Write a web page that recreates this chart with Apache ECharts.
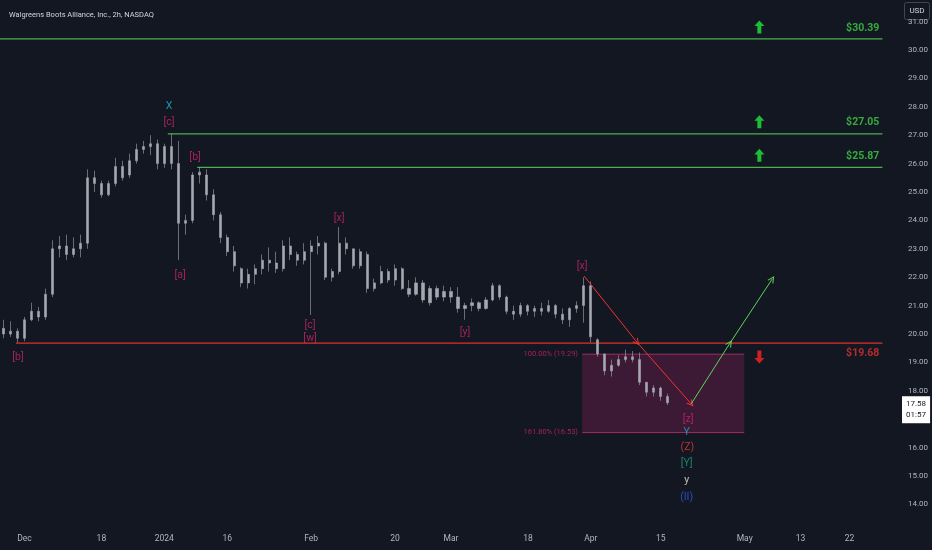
<!DOCTYPE html>
<html>
<head>
<meta charset="utf-8">
<title>WBA 2h</title>
<script src="https://cdn.jsdelivr.net/npm/echarts@6/dist/echarts.min.js"></script>
<style>
html, body { margin: 0; padding: 0; background: #131722; }
#chart { width: 932px; height: 550px; }
</style>
</head>
<body>
<div id="chart"></div>
<script>
// trading calendar (NASDAQ), weekends and these holidays are skipped
const firstDay = '2023-11-28';
const lastDay = '2024-05-31';
const holidays = ['2023-12-25', '2024-01-01', '2024-01-15', '2024-02-19', '2024-03-29', '2024-05-27'];

// time scale labels as printed under the chart
const tickLabels = {
    '2023-12-01': 'Dec', '2023-12-18': '18', '2024-01-02': '2024', '2024-01-16': '16',
    '2024-02-01': 'Feb', '2024-02-20': '20', '2024-03-01': 'Mar', '2024-03-18': '18',
    '2024-04-01': 'Apr', '2024-04-15': '15', '2024-05-01': 'May', '2024-05-13': '13',
    '2024-05-22': '22'
};

// one candle per session: [open, close, low, high]
const candles = [
    [20.2, 20.0, 19.85, 20.5], [20.0, 20.1, 19.9, 20.45], [20.1, 19.85, 19.7, 20.2], [19.85, 20.5, 19.75, 20.6],
    [20.5, 20.8, 20.45, 21.1], [20.8, 20.6, 20.45, 20.95], [20.6, 21.4, 20.5, 21.6], [21.4, 23.0, 21.3, 23.3],
    [23.0, 23.1, 22.7, 23.45], [23.1, 22.8, 22.6, 23.5], [22.8, 23.0, 22.7, 23.4], [23.0, 23.2, 22.7, 23.5],
    [23.2, 25.5, 23.0, 25.8], [25.5, 25.3, 25.0, 25.75], [25.3, 24.9, 24.8, 25.4], [24.9, 25.3, 24.85, 25.4],
    [25.3, 25.9, 25.2, 26.2], [25.9, 25.5, 25.4, 26.1], [25.6, 26.1, 25.5, 26.35], [26.1, 26.5, 26.0, 26.7],
    [26.5, 26.6, 26.35, 26.8], [26.6, 26.7, 26.3, 27.0], [26.7, 26.0, 25.8, 26.85], [26.0, 26.6, 25.85, 26.7],
    [26.6, 26.0, 25.8, 27.05], [26.0, 23.9, 22.6, 26.8], [23.9, 24.0, 23.5, 24.2], [24.0, 25.6, 23.9, 25.7],
    [25.6, 25.7, 25.3, 25.87], [25.6, 24.9, 24.7, 25.8], [24.9, 24.2, 24.0, 25.1], [24.2, 23.4, 23.2, 24.3],
    [23.4, 22.9, 22.75, 23.5], [22.9, 22.4, 22.2, 23.1], [22.3, 21.8, 21.65, 22.35], [21.8, 22.1, 21.6, 22.3],
    [22.1, 22.3, 21.75, 22.45], [22.3, 22.6, 22.1, 22.8], [22.6, 22.5, 22.2, 23.05], [22.5, 22.3, 22.15, 22.9],
    [22.3, 23.1, 22.2, 23.3], [23.1, 22.8, 22.6, 23.4], [22.8, 22.6, 22.4, 22.9], [22.6, 22.9, 22.45, 23.2],
    [22.9, 23.1, 20.67, 23.3], [23.1, 23.2, 22.8, 23.45], [23.2, 22.0, 21.9, 23.25], [22.0, 22.2, 21.85, 22.3],
    [22.2, 23.2, 22.1, 23.77], [23.2, 23.0, 22.8, 23.4], [23.0, 22.4, 22.3, 23.0], [22.4, 22.9, 22.3, 23.0],
    [22.8, 21.6, 21.45, 22.9], [21.6, 21.8, 21.5, 21.95], [21.8, 22.2, 21.75, 22.4], [22.2, 21.9, 21.8, 22.3],
    [21.9, 22.3, 21.7, 22.45], [22.3, 21.6, 21.55, 22.35], [21.6, 21.4, 21.3, 21.9], [21.4, 21.8, 21.35, 22.0],
    [21.8, 21.2, 21.1, 21.9], [21.1, 21.6, 21.0, 21.7], [21.6, 21.3, 21.2, 21.7], [21.3, 21.5, 21.15, 21.7],
    [21.5, 21.3, 21.1, 21.65], [21.3, 20.9, 20.75, 21.65], [20.9, 21.0, 20.5, 21.1], [21.0, 21.1, 20.8, 21.25],
    [21.1, 20.9, 20.8, 21.15], [20.9, 21.2, 20.85, 21.3], [21.2, 21.7, 21.15, 21.8], [21.7, 21.3, 21.2, 21.75],
    [21.3, 20.8, 20.7, 21.35], [20.8, 20.7, 20.5, 21.0], [20.7, 21.0, 20.6, 21.1], [21.0, 20.8, 20.65, 21.05],
    [20.8, 20.9, 20.6, 21.0], [20.9, 20.8, 20.65, 21.1], [20.8, 21.0, 20.75, 21.2], [21.0, 20.7, 20.55, 21.05],
    [20.7, 20.5, 20.35, 20.9], [20.5, 20.9, 20.25, 20.95], [20.9, 21.0, 20.75, 21.15], [21.0, 21.7, 20.4, 22.0],
    [21.7, 19.9, 19.7, 21.85], [19.8, 19.3, 19.2, 19.85], [19.3, 18.7, 18.55, 19.3], [18.7, 18.9, 18.5, 19.1],
    [18.9, 19.1, 18.85, 19.25], [19.1, 19.2, 19.0, 19.45], [19.2, 19.1, 19.0, 19.4], [19.1, 18.3, 18.2, 19.35],
    [18.3, 17.95, 17.8, 18.3], [17.95, 18.1, 17.8, 18.2], [18.1, 17.8, 17.65, 18.15], [17.8, 17.58, 17.5, 17.9]
];
const lastPrice = 17.58;
const countdown = '01:57';

// price scale
const priceMin = 13.275;
const priceMax = 31.761;
const priceTicks = [14, 15, 16, 17, 18, 19, 20, 21, 22, 23, 24, 25, 26, 27, 28, 29, 30, 31];

// horizontal levels (x in session slots, 0 = first session)
const levelPrices = [30.39, 27.05, 25.87, 19.68];
const levelStart = [0, 24.0, 28.2, 2.3];
const levelEnd = 126.2;
const levelUp = [true, true, true, false];
const arrowSlot = 108.6;

// fib extension box
const fibPrices = [19.29, 16.53];
const fibLabels = ['100.00% (19.29)', '161.80% (16.53)'];
const fibFrom = 83.26;
const fibTo = 106.44;

// projected paths
const redPath = [[83.55, 22.04], [91.13, 19.70], [98.85, 17.54]];
const greenPath = [[98.85, 17.54], [104.4, 19.68], [110.45, 21.94]];

// wave labels: text, slot, price, colour
const waveText = ['X', '[c]', '[b]', '[a]', '[b]', '[x]', '[c]', '[w]', '[y]', '[x]', '[z]', 'Y', '(Z)', '[Y]', 'y', '(II)'];
const waveSlot = [24.18, 24.18, 27.9, 25.75, 2.58, 48.5, 44.35, 44.35, 66.5, 83.26, 98.4, 98.2, 98.3, 98.2, 98.2, 98.2];
const wavePrice = [28.03, 27.46, 26.23, 22.08, 19.19, 24.08, 20.32, 19.86, 20.04, 22.39, 17.0, 16.55, 16.02, 15.46, 14.86, 14.26];
const waveColor = ['#1fb5cc', '#c9246a', '#c9246a', '#c9246a', '#c9246a', '#c9246a', '#c9246a', '#c9246a', '#c9246a',
    '#c9246a', '#c9246a', '#26a3d6', '#e53935', '#1e9e84', '#ece6c8', '#2f5ce8'];

const FONT = 'Roboto, "Noto Sans", sans-serif';
const GREEN = '#4caf50';
const GREEN_TEXT = '#3fcf45';
const RED = '#e0312f';
const PINK = '#c9246a';
const BAR = '#a5a8b0';

function buildDays() {
    const out = [];
    const d = new Date(firstDay + 'T12:00:00Z');
    const end = new Date(lastDay + 'T12:00:00Z');
    while (d <= end) {
        const key = d.toISOString().slice(0, 10);
        const wd = d.getUTCDay();
        if (wd !== 0 && wd !== 6 && holidays.indexOf(key) < 0) out.push(key);
        d.setUTCDate(d.getUTCDate() + 1);
    }
    return out;
}

const days = buildDays();
const chart = echarts.init(document.getElementById('chart'), null, { renderer: 'canvas' });

const levelSeries = levelPrices.map((p, i) => ({
    type: 'line',
    xAxisIndex: 1,
    silent: true,
    symbol: 'none',
    lineStyle: { color: levelUp[i] ? GREEN : RED, width: 1.2 },
    data: [[levelStart[i], p], [levelEnd, p]],
    z: 3
}));

const fibSeries = fibPrices.map((p, i) => ({
    type: 'line',
    xAxisIndex: 1,
    silent: true,
    symbol: 'none',
    lineStyle: { color: 'rgba(196, 52, 120, 0.75)', width: 1 },
    data: [[fibFrom, p], [fibTo, p]],
    markArea: i === 0 ? {
        silent: true,
        itemStyle: { color: 'rgba(168, 36, 104, 0.28)' },
        data: [[{ coord: [fibFrom, fibPrices[0]] }, { coord: [fibTo, fibPrices[1]] }]]
    } : undefined,
    z: 2
}));

function segments(path) {
    const out = [];
    for (let i = 1; i < path.length; i++) out.push({ coords: [path[i - 1], path[i]] });
    return out;
}

const chevron = 'path://M0,10 L5,0 L10,10 L8.4,10 L5,3.2 L1.6,10 Z';
const upArrow = 'path://M5,0 L10,6 L7,6 L7,14 L3,14 L3,6 L0,6 Z';

const option = {
    backgroundColor: '#131722',
    animation: false,
    title: {
        text: 'Walgreens Boots Alliance, Inc., 2h, NASDAQ',
        left: 4,
        top: 6,
        textStyle: { color: '#d1d4dc', fontSize: 7.5, fontWeight: 'normal', fontFamily: FONT }
    },
    grid: { left: 0, right: 37, top: 0, bottom: 25, containLabel: false },
    xAxis: [{
        type: 'category',
        data: days,
        boundaryGap: true,
        axisLine: { show: false },
        axisTick: { show: false },
        splitLine: { show: false },
        axisLabel: {
            interval: (idx, val) => tickLabels[val] !== undefined,
            formatter: (val) => tickLabels[val] || '',
            color: '#b2b5be',
            fontSize: 8.5,
            fontFamily: FONT,
            margin: 9
        }
    }, {
        type: 'value',
        min: 0,
        max: days.length,
        show: false
    }],
    yAxis: {
        type: 'value',
        position: 'right',
        min: priceMin,
        max: priceMax,
        axisLine: { show: false },
        axisTick: { show: false },
        splitLine: { show: false },
        axisLabel: {
            customValues: priceTicks,
            formatter: (v) => v.toFixed(2),
            color: '#b2b5be',
            fontSize: 8,
            fontFamily: FONT,
            margin: 13
        }
    },
    series: [
        {
            type: 'candlestick',
            data: candles,
            barWidth: 2.6,
            silent: true,
            itemStyle: {
                color: BAR, color0: BAR,
                borderColor: BAR, borderColor0: BAR,
                borderWidth: 0.6
            },
            markLine: {
                silent: true,
                symbol: 'none',
                lineStyle: { color: 'rgba(0,0,0,0)', width: 0 },
                label: {
                    show: true,
                    position: 'end',
                    distance: 7,
                    offset: [0, 7],
                    formatter: lastPrice.toFixed(2) + '\n' + countdown,
                    backgroundColor: '#ffffff',
                    color: '#131722',
                    fontSize: 8,
                    lineHeight: 11,
                    fontFamily: FONT,
                    padding: [3, 4, 2, 4]
                },
                data: [{ yAxis: lastPrice }]
            },
            z: 4
        },
        ...levelSeries,
        ...fibSeries,
        {
            type: 'scatter',
            xAxisIndex: 1,
            silent: true,
            symbolSize: 0,
            data: levelPrices.map((p, i) => ({
                value: [levelEnd - 0.45, p],
                label: {
                    color: levelUp[i] ? GREEN_TEXT : RED,
                    position: [0, levelUp[i] ? -11 : 10]
                }
            })),
            label: {
                show: true,
                align: 'right',
                verticalAlign: 'middle',
                formatter: (prm) => '$' + prm.value[1].toFixed(2),
                fontSize: 10.5,
                fontWeight: 'bold',
                fontFamily: FONT
            },
            z: 6
        },
        {
            type: 'scatter',
            xAxisIndex: 1,
            silent: true,
            symbol: upArrow,
            symbolSize: [10, 13],
            data: levelPrices.map((p, i) => ({
                value: [arrowSlot, p],
                symbolRotate: levelUp[i] ? 0 : 180,
                symbolOffset: [0, levelUp[i] ? -12 : 14],
                itemStyle: { color: levelUp[i] ? '#1ee83a' : '#ff2424' }
            })),
            z: 6
        },
        {
            type: 'scatter',
            xAxisIndex: 1,
            silent: true,
            symbolSize: 0,
            data: fibPrices.map((p, i) => ({ value: [fibFrom - 0.6, p], name: fibLabels[i] })),
            label: {
                show: true,
                position: [0, 0],
                align: 'right',
                verticalAlign: 'middle',
                formatter: (prm) => prm.name,
                color: PINK,
                fontSize: 7.5,
                fontFamily: FONT
            },
            z: 6
        },
        {
            type: 'lines',
            coordinateSystem: 'cartesian2d',
            xAxisIndex: 1,
            silent: true,
            symbol: ['none', chevron],
            symbolSize: [9, 7],
            lineStyle: { color: '#f0352f', width: 1, opacity: 1 },
            data: segments(redPath),
            z: 7
        },
        {
            type: 'lines',
            coordinateSystem: 'cartesian2d',
            xAxisIndex: 1,
            silent: true,
            symbol: ['none', chevron],
            symbolSize: [9, 7],
            lineStyle: { color: '#5fd35a', width: 1, opacity: 1 },
            data: segments(greenPath),
            z: 7
        },
        {
            type: 'scatter',
            xAxisIndex: 1,
            silent: true,
            symbolSize: 0,
            data: waveText.map((t, i) => ({
                value: [waveSlot[i], wavePrice[i]],
                name: t,
                label: { color: waveColor[i] }
            })),
            label: {
                show: true,
                position: [0, 0],
                align: 'center',
                verticalAlign: 'middle',
                formatter: (prm) => prm.name,
                fontSize: 10.5,
                fontFamily: FONT
            },
            z: 8
        }
    ],
    graphic: [{
        type: 'group',
        right: 2,
        top: 2,
        z: 100,
        children: [{
            type: 'rect',
            shape: { x: 0, y: 0, width: 25, height: 17, r: 2 },
            style: { fill: '#131722', stroke: '#434651', lineWidth: 1 }
        }, {
            type: 'text',
            x: 12.5,
            y: 8.5,
            style: {
                text: 'USD', fill: '#d1d4dc', fontSize: 8, fontFamily: FONT,
                align: 'center', verticalAlign: 'middle'
            }
        }]
    }]
};

chart.setOption(option);
</script>
</body>
</html>
